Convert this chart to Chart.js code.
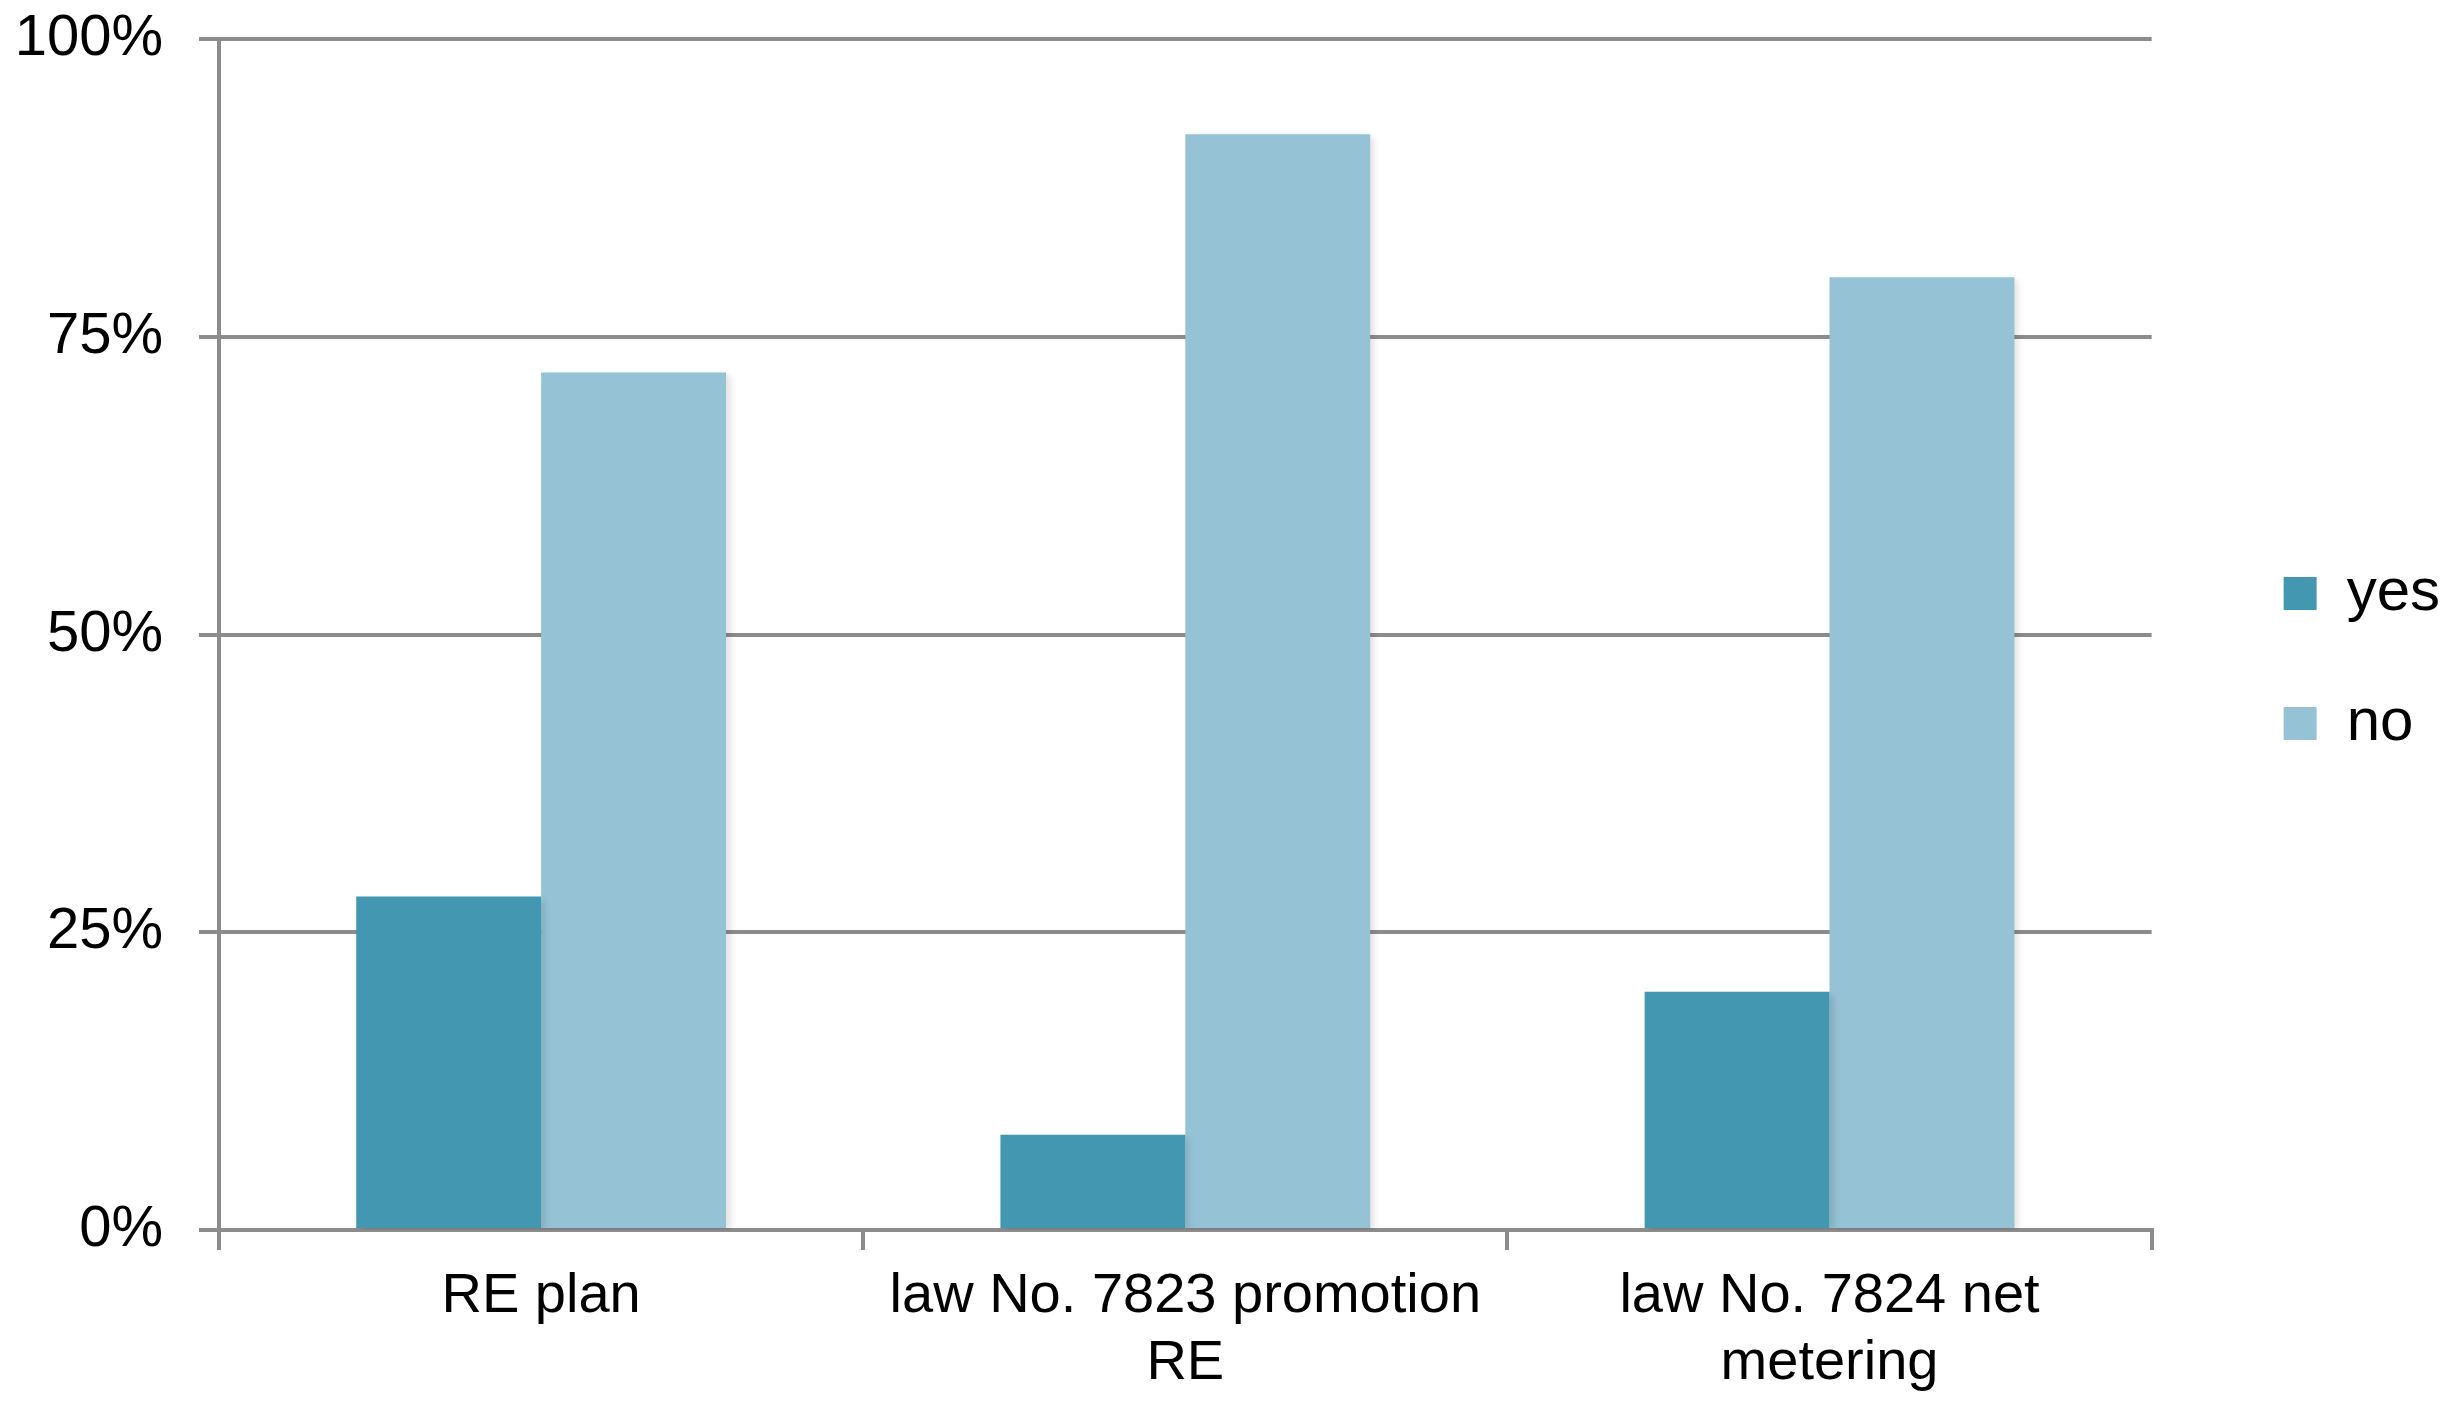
<!DOCTYPE html>
<html>
<head>
<meta charset="utf-8">
<script src="https://cdn.jsdelivr.net/npm/chart.js@4.4.1/dist/chart.umd.min.js"></script>
<style>
  html, body { margin: 0; background: #fff; }
  #wrap { width: 2458px; height: 1405px; }
</style>
</head>
<body>
<div id="wrap"><canvas id="grafico"></canvas></div>
<script>
// categorias e valores (% de respostas)
const categorias = ['RE plan', ['law No. 7823 promotion', 'RE'], ['law No. 7824 net', 'metering']];
const valoresSim = [28, 8, 20];
const valoresNao = [72, 92, 80];
const ticksY = [0, 25, 50, 75, 100];

const corSim = '#4397b0';
const corNao = '#95c3d5';
const corGrade = '#8c8c8c';
const fonte = 'Liberation Sans, Arial, sans-serif';

// sombra leve nas barras, como no original
const sombra = {
  id: 'sombra',
  beforeDatasetsDraw(chart) {
    const c = chart.ctx;
    c.save();
    c.shadowColor = 'rgba(0,0,0,0.13)';
    c.shadowBlur = 7;
    c.shadowOffsetX = 4;
    c.shadowOffsetY = 3;
  },
  afterDatasetsDraw(chart) { chart.ctx.restore(); }
};

const ctx = document.getElementById('grafico').getContext('2d');
new Chart(ctx, {
  type: 'bar',
  data: {
    labels: categorias,
    datasets: [
      { label: 'yes', data: valoresSim, backgroundColor: corSim, borderWidth: 0 },
      { label: 'no', data: valoresNao, backgroundColor: corNao, borderWidth: 0 }
    ]
  },
  plugins: [sombra],
  options: {
    responsive: true,
    maintainAspectRatio: false,
    animation: false,
    layout: { padding: { left: 0, top: 39, right: 8, bottom: 0 } },
    datasets: { bar: { categoryPercentage: 0.574, barPercentage: 1 } },
    plugins: {
      tooltip: { enabled: false },
      legend: {
        position: 'right',
        fullSize: false,
        title: { display: true, text: '', font: { size: 40 }, padding: 0 },
        labels: {
          color: '#000',
          font: { family: fonte, size: 60 },
          boxWidth: 33, boxHeight: 33,
          padding: 70
        }
      }
    },
    scales: {
      x: {
        grid: { display: true, drawOnChartArea: false, drawTicks: true, tickLength: 20, color: corGrade, lineWidth: 4, offset: true },
        border: { display: true, color: corGrade, width: 4 },
        ticks: {
          color: '#000', padding: 13, maxRotation: 0, autoSkip: false,
          font: { family: fonte, size: 56, lineHeight: 1.2 }
        },
        afterFit: s => { s.height = 175; }
      },
      y: {
        min: 0, max: 100,
        afterBuildTicks: s => { s.ticks = ticksY.map(v => ({ value: v })); },
        grid: { color: corGrade, lineWidth: 4, tickLength: 20, drawTicks: true },
        border: { display: true, color: corGrade, width: 4 },
        ticks: {
          color: '#000', padding: 36,
          font: { family: fonte, size: 58 },
          callback: v => v + '%'
        },
        afterFit: s => { s.width = 219; s.paddingTop = 0; s.paddingBottom = 0; }
      },
      y2: {
        position: 'right',
        display: true,
        grid: { display: false },
        border: { display: false },
        ticks: { display: false },
        afterFit: s => { s.width = 62; s.paddingTop = 0; s.paddingBottom = 0; }
      }
    }
  }
});
</script>
</body>
</html>
